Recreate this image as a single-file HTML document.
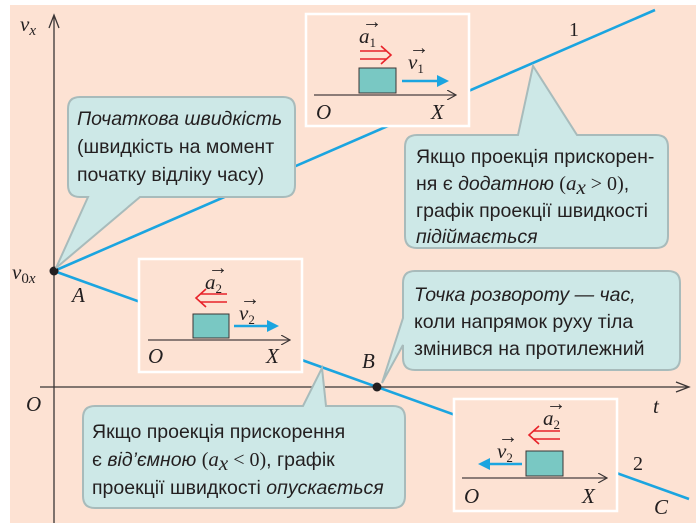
<!DOCTYPE html>
<html><head><meta charset="utf-8"><style>
html,body{margin:0;padding:0;background:#fff;width:700px;height:531px;overflow:hidden}
svg{display:block}
.s{font-family:"Liberation Sans","DejaVu Sans",sans-serif;font-size:19.5px;fill:#231f20}
.i{font-style:italic}
.m{font-family:"Liberation Serif",serif;font-style:italic;font-size:21px;fill:#231f20}
.n{font-family:"Liberation Serif",serif;font-size:20px;fill:#231f20}
</style></head><body>
<svg width="700" height="531" viewBox="0 0 700 531" xmlns="http://www.w3.org/2000/svg">
<defs>
<marker id="ah" markerWidth="10" markerHeight="10" refX="9" refY="5" orient="auto" markerUnits="userSpaceOnUse"><path d="M0,0 L9,5 L0,10" fill="none" stroke="#3a3535" stroke-width="1.2"/></marker>
</defs>
<rect x="10" y="5" width="686" height="518" fill="#fde2d3"/>
<line x1="54" y1="523" x2="54" y2="16" stroke="#3a3535" stroke-width="1.3"/>
<path d="M49,28 L54,15 L59,28" fill="none" stroke="#3a3535" stroke-width="1.3"/>
<line x1="40" y1="387" x2="688" y2="387" stroke="#3a3535" stroke-width="1.3"/>
<path d="M676,382 L689,387 L676,392" fill="none" stroke="#3a3535" stroke-width="1.3"/>
<line x1="54" y1="271" x2="655" y2="10" stroke="#1ba5e0" stroke-width="2.6"/>
<line x1="54" y1="271" x2="689" y2="499" stroke="#1ba5e0" stroke-width="2.6"/>
<circle cx="54" cy="271" r="4.5" fill="#231f20"/>
<circle cx="377" cy="387" r="4.5" fill="#231f20"/>
<text x="20" y="31" class="m">v<tspan font-size="15" dy="4">x</tspan></text>
<text x="12" y="279" class="m">v<tspan font-size="15" dy="4" font-style="normal">0</tspan><tspan font-size="15">x</tspan></text>
<text x="72" y="302" class="m">A</text>
<text x="26" y="411" class="m">O</text>
<text x="653" y="413" class="m">t</text>
<text x="362" y="368" class="m">B</text>
<text x="569" y="36" class="n">1</text>
<text x="633" y="470" class="n">2</text>
<text x="654" y="514" class="m">C</text>

<path d="M80,97 H283 Q295,97 295,109 V185 Q295,197 283,197 H140 L56,268 L88,197 H80 Q68,197 68,185 V109 Q68,97 80,97 Z" fill="#cde8e7" stroke="#a8bbbb" stroke-width="2"/>
<text x="77" y="125" class="s i">Початкова швидкість</text>
<text x="77" y="153" class="s">(швидкість на момент</text>
<text x="77" y="181" class="s">початку відліку часу)</text>

<path d="M417,135 H518 L533,66 L577,135 H656 Q668,135 668,147 V236 Q668,248 656,248 H417 Q405,248 405,236 V147 Q405,135 417,135 Z" fill="#cde8e7" stroke="#a8bbbb" stroke-width="2"/>
<text x="416" y="163" class="s">Якщо проекція прискорен-</text>
<text x="416" y="190" class="s">ня є <tspan class="i">додатною</tspan> <tspan class="n" font-size="23">(</tspan><tspan class="m" font-size="20">a</tspan><tspan class="m" font-size="14" dy="4">x</tspan><tspan class="n" dy="-4"> &gt; 0</tspan><tspan class="n" font-size="23">)</tspan>,</text>
<text x="416" y="217" class="s">графік проекції швидкості</text>
<text x="416" y="243" class="s i">підіймається</text>

<path d="M415,271 H668 Q680,271 680,283 V358 Q680,370 668,370 H415 Q403,370 403,358 V345 L382,383 L403,318 V283 Q403,271 415,271 Z" fill="#cde8e7" stroke="#a8bbbb" stroke-width="2"/>
<text x="414" y="301" class="s i">Точка розвороту — час,</text>
<text x="414" y="328" class="s">коли напрямок руху тіла</text>
<text x="414" y="355" class="s">змінився на протилежний</text>

<path d="M95,406 H303 L322,368 L326,406 H393 Q405,406 405,418 V496 Q405,508 393,508 H95 Q83,508 83,496 V418 Q83,406 95,406 Z" fill="#cde8e7" stroke="#a8bbbb" stroke-width="2"/>
<text x="92" y="438" class="s">Якщо проекція прискорення</text>
<text x="92" y="466" class="s">є <tspan class="i">від’ємною</tspan> <tspan class="n" font-size="23">(</tspan><tspan class="m" font-size="20">a</tspan><tspan class="m" font-size="14" dy="4">x</tspan><tspan class="n" dy="-4"> &lt; 0</tspan><tspan class="n" font-size="23">)</tspan>, графік</text>
<text x="92" y="494" class="s">проекції швидкості <tspan class="i">опускається</tspan></text>

<rect x="306" y="14" width="163" height="112" fill="#fde2d3" stroke="#fff" stroke-width="2.5"/>
<line x1="314" y1="95" x2="456" y2="95" stroke="#4a4040" stroke-width="1.3" marker-end="url(#ah)"/>
<rect x="359" y="68" width="37" height="25" fill="#79c8c3" stroke="#3a3535" stroke-width="1"/>
<path d="M360,51 H387 M360,59 H387 M381,46 L391,55 L381,64" fill="none" stroke="#e8232a" stroke-width="1.6"/>
<line x1="402" y1="81" x2="440" y2="81" stroke="#1ba5e0" stroke-width="2.5"/>
<path d="M437,75 L449,81 L437,87 Z" fill="#1ba5e0"/>
<text x="359" y="43" class="m" font-size="19">a<tspan font-size="13" font-style="normal" dy="4">1</tspan></text>
<text x="362" y="28" class="n" font-size="12">→</text>
<text x="408" y="69" class="m" font-size="19">v<tspan font-size="13" font-style="normal" dy="4">1</tspan></text>
<text x="409" y="54" class="n" font-size="12">→</text>
<text x="316" y="119" class="m">O</text>
<text x="431" y="119" class="m">X</text>

<rect x="139" y="259" width="163" height="113" fill="#fde2d3" stroke="#fff" stroke-width="2.5"/>
<line x1="148" y1="340" x2="290" y2="340" stroke="#4a4040" stroke-width="1.3" marker-end="url(#ah)"/>
<rect x="193" y="314" width="36" height="24" fill="#79c8c3" stroke="#3a3535" stroke-width="1"/>
<path d="M227,294 H200 M227,302 H200 M206,289 L196,298 L206,307" fill="none" stroke="#e8232a" stroke-width="1.6"/>
<line x1="234" y1="326" x2="270" y2="326" stroke="#1ba5e0" stroke-width="2.5"/>
<path d="M267,320 L279,326 L267,332 Z" fill="#1ba5e0"/>
<text x="205" y="289" class="m" font-size="19">a<tspan font-size="13" font-style="normal" dy="4">2</tspan></text>
<text x="208" y="274" class="n" font-size="12">→</text>
<text x="239" y="320" class="m" font-size="19">v<tspan font-size="13" font-style="normal" dy="4">2</tspan></text>
<text x="240" y="305" class="n" font-size="12">→</text>
<text x="148" y="363" class="m">O</text>
<text x="266" y="363" class="m">X</text>

<rect x="454" y="399" width="163" height="112" fill="#fde2d3" stroke="#fff" stroke-width="2.5"/>
<line x1="462" y1="478" x2="607" y2="478" stroke="#4a4040" stroke-width="1.3" marker-end="url(#ah)"/>
<rect x="526" y="451" width="37" height="25" fill="#79c8c3" stroke="#3a3535" stroke-width="1"/>
<path d="M560,431 H533 M560,439 H533 M539,426 L529,435 L539,444" fill="none" stroke="#e8232a" stroke-width="1.6"/>
<line x1="522" y1="464" x2="487" y2="464" stroke="#1ba5e0" stroke-width="2.5"/>
<path d="M490,458 L478,464 L490,470 Z" fill="#1ba5e0"/>
<text x="543" y="425" class="m" font-size="19">a<tspan font-size="13" font-style="normal" dy="4">2</tspan></text>
<text x="546" y="410" class="n" font-size="12">→</text>
<text x="497" y="458" class="m" font-size="19">v<tspan font-size="13" font-style="normal" dy="4">2</tspan></text>
<text x="498" y="443" class="n" font-size="12">→</text>
<text x="464" y="503" class="m">O</text>
<text x="582" y="503" class="m">X</text>
</svg>
</body></html>
